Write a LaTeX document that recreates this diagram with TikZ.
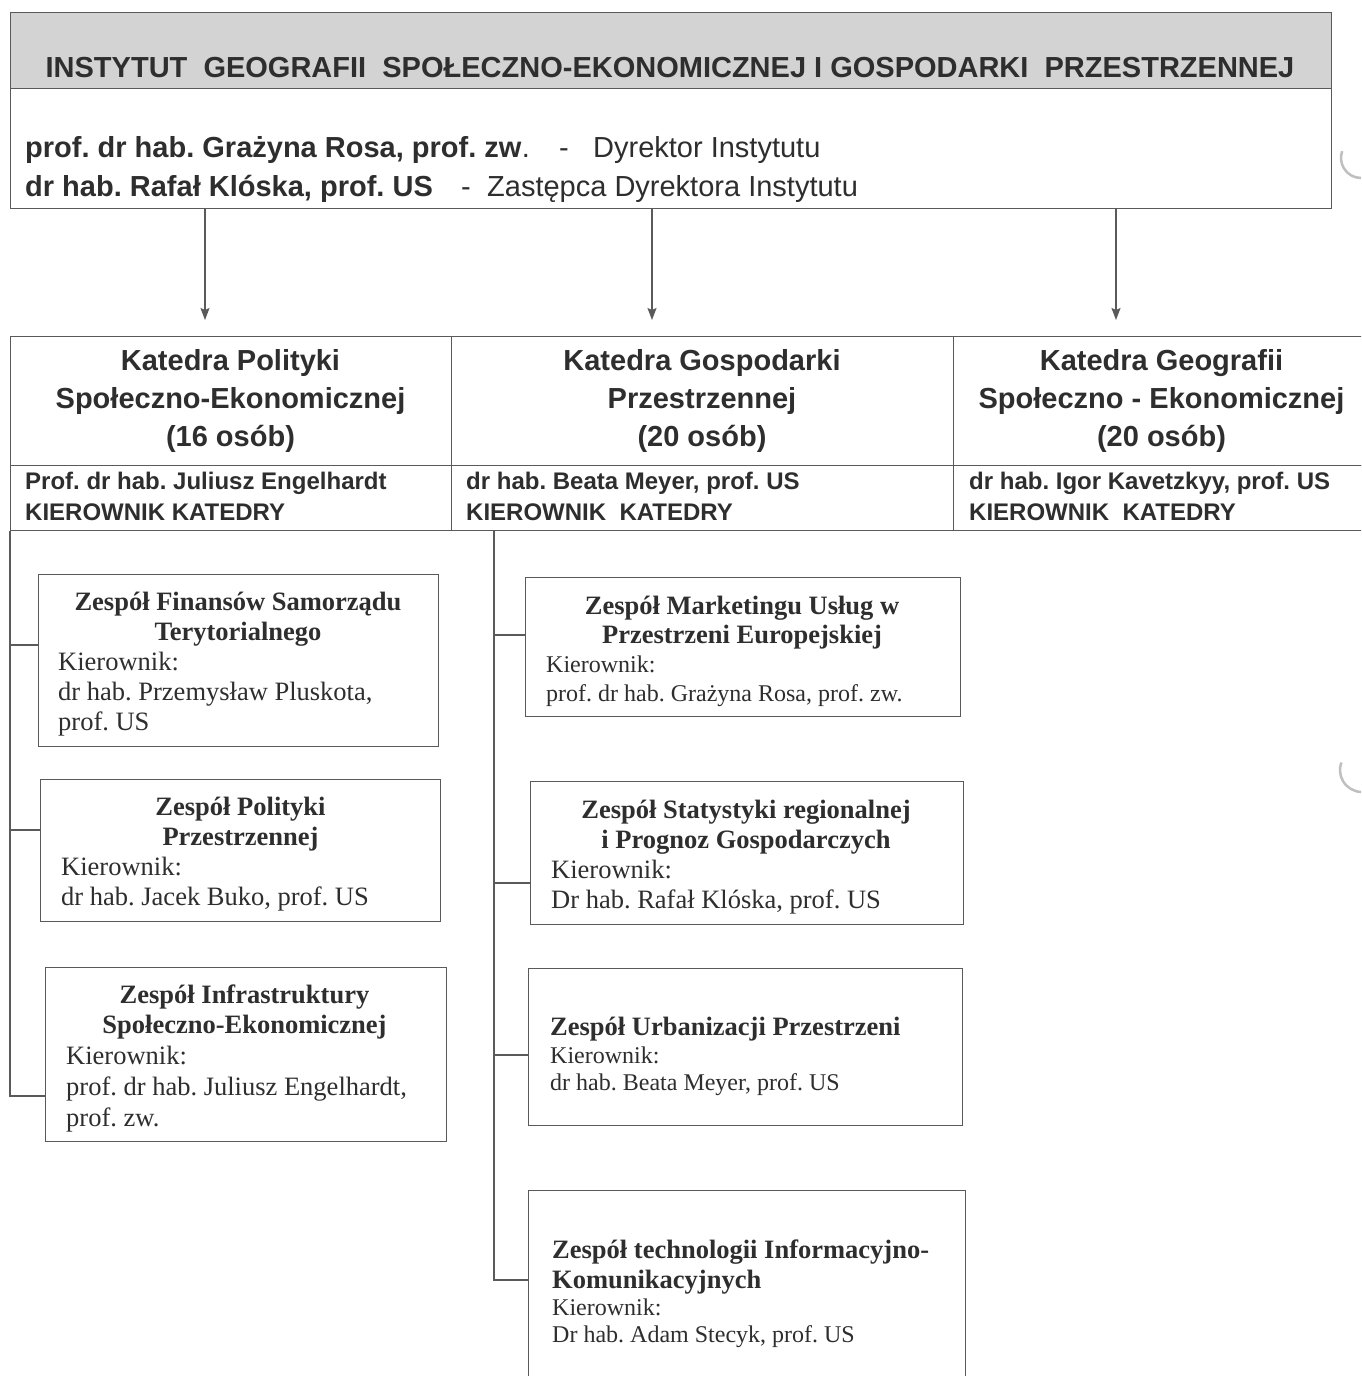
\documentclass[tikz,border=0pt]{standalone}
\usepackage{fontspec}
\setmainfont{Liberation Serif}
\setsansfont{Liberation Sans}
\usetikzlibrary{arrows.meta}
\definecolor{ink}{HTML}{2E2E2E}
\definecolor{rulec}{HTML}{5A5A5A}
\definecolor{bandc}{HTML}{D3D3D3}
\frenchspacing
\begin{document}
\frenchspacing
\begin{tikzpicture}[x=1pt,y=-1pt,
  box/.style={draw=rulec, line width=1.3pt, anchor=north west, inner sep=0pt},
  conn/.style={draw=rulec, line width=1.3pt},
  arr/.style={draw=rulec, line width=1.3pt, -{Stealth[length=12pt,width=9pt,inset=2pt]}},
  txt/.style={inner sep=0pt, text=ink},
  hdr/.style={txt, anchor=base, font=\sffamily\bfseries\fontsize{29}{34}\selectfont},
  nm/.style={txt, anchor=base west, font=\sffamily\bfseries\fontsize{29}{34}\selectfont},
  rl/.style={txt, anchor=base west, font=\sffamily\fontsize{29}{34}\selectfont},
  kat/.style={txt, anchor=base, font=\sffamily\bfseries\fontsize{29}{34}\selectfont},
  kier/.style={txt, anchor=base west, font=\sffamily\bfseries\fontsize{24}{28}\selectfont},
  zt/.style={txt, anchor=base, font=\bfseries\fontsize{26.5}{30}\selectfont},
  ztl/.style={txt, anchor=base west, font=\bfseries\fontsize{26.5}{30}\selectfont},
  zb/.style={txt, anchor=base west, font=\fontsize{26.5}{30}\selectfont},
  zs/.style={txt, anchor=base west, font=\fontsize{24}{28}\selectfont},
  hole/.style={draw=black!25, line width=2.5pt}
]
\useasboundingbox (0,0) rectangle (1361,1376);
\clip (0,0) rectangle (1361,1376);
\fill[white] (0,0) rectangle (1361,1376);

% ---------- institute box ----------
\node[box, fill=bandc, minimum width=1321pt, minimum height=76pt] (band) at (10,12) {};
\node[box, minimum width=1321pt, minimum height=196pt] (inst) at (10,12) {};
\node[hdr] (title) at (670,77) {INSTYTUT\ \ GEOGRAFII\ \ SPOŁECZNO-EKONOMICZNEJ I GOSPODARKI\ \ PRZESTRZENNEJ};

\node[nm] (d1n) at (25,157) {prof. dr hab. Grażyna Rosa, prof. zw};
\node[rl] (d1p) at (d1n.base east) {.};
\node[rl] (d1d) at (559,157) {-};
\node[rl] (d1r) at (593,157) {Dyrektor Instytutu};
\node[nm] (d2n) at (25,196) {dr hab. Rafał Klóska, prof. US};
\node[rl] (d2d) at (461,196) {-};
\node[rl] (d2r) at (487,196) {Zastępca Dyrektora Instytutu};

% ---------- departments ----------
\node[box, minimum width=441pt, minimum height=129pt] (k1) at (10,336) {};
\node[box, minimum width=441pt, minimum height=65pt] (k1h) at (10,465) {};
\node[box, minimum width=502pt, minimum height=129pt] (k2) at (451,336) {};
\node[box, minimum width=502pt, minimum height=65pt] (k2h) at (451,465) {};
\node[box, minimum width=412pt, minimum height=129pt] (k3) at (953,336) {};
\node[box, minimum width=412pt, minimum height=65pt] (k3h) at (953,465) {};

\node[kat] (k1a) at (230.5,370) {Katedra Polityki};
\node[kat] (k1b) at (230.5,408) {Społeczno-Ekonomicznej};
\node[kat] (k1c) at (230.5,446) {(16 osób)};
\node[kat] (k2a) at (702,370) {Katedra Gospodarki};
\node[kat] (k2b) at (702,408) {Przestrzennej};
\node[kat] (k2c) at (702,446) {(20 osób)};
\node[kat] (k3a) at (1161.5,370) {Katedra Geografii};
\node[kat] (k3b) at (1161.5,408) {Społeczno - Ekonomicznej};
\node[kat] (k3c) at (1161.5,446) {(20 osób)};

\node[kier] (k1ha) at (25,489) {Prof. dr hab. Juliusz Engelhardt};
\node[kier] (k1hb) at (25,520) {KIEROWNIK KATEDRY};
\node[kier] (k2ha) at (466,489) {dr hab. Beata Meyer, prof. US};
\node[kier] (k2hb) at (466,520) {KIEROWNIK\ \ KATEDRY};
\node[kier] (k3ha) at (969,489) {dr hab. Igor Kavetzkyy, prof. US};
\node[kier] (k3hb) at (969,520) {KIEROWNIK\ \ KATEDRY};

% ---------- arrows ----------
\coordinate (a1) at (205,320);
\coordinate (a2) at (652,320);
\coordinate (a3) at (1116,320);
\draw[arr] (inst.south -| a1) -- (a1);
\draw[arr] (inst.south -| a2) -- (a2);
\draw[arr] (inst.south -| a3) -- (a3);

% ---------- left teams ----------
\node[box, minimum width=400pt, minimum height=172pt] (lb1) at (38,574) {};
\node[zt] (lb1a) at (238,610) {Zespół Finansów Samorządu};
\node[zt] (lb1b) at (238,640) {Terytorialnego};
\node[zb] (lb1c) at (58,670) {Kierownik:};
\node[zb] (lb1d) at (58,700) {dr hab. Przemysław Pluskota,};
\node[zb] (lb1e) at (58,730) {prof. US};

\node[box, minimum width=400pt, minimum height=142pt] (lb2) at (40,779) {};
\node[zt] (lb2a) at (240.5,815) {Zespół Polityki};
\node[zt] (lb2b) at (240.5,845) {Przestrzennej};
\node[zb] (lb2c) at (61,875) {Kierownik:};
\node[zb] (lb2d) at (61,905) {dr hab. Jacek Buko, prof. US};

\node[box, minimum width=401pt, minimum height=174pt] (lb3) at (45,967) {};
\node[zt] (lb3a) at (244.5,1003) {Zespół Infrastruktury};
\node[zt] (lb3b) at (244.5,1033) {Społeczno-Ekonomicznej};
\node[zb] (lb3c) at (66,1064) {Kierownik:};
\node[zb] (lb3d) at (66,1095) {prof. dr hab. Juliusz Engelhardt,};
\node[zb] (lb3e) at (66,1126) {prof. zw.};

\coordinate (lt1) at (38,645);
\coordinate (lt2) at (40,830);
\coordinate (lt3) at (45,1096);
\draw[conn] (k1h.south west) |- (lt3);
\draw[conn] (lt1 -| k1h.south west) -- (lt1);
\draw[conn] (lt2 -| k1h.south west) -- (lt2);

% ---------- middle teams ----------
\node[box, minimum width=435pt, minimum height=139pt] (mb1) at (525,577) {};
\node[zt] (mb1a) at (742,614) {Zespół Marketingu Usług w};
\node[zt] (mb1b) at (742,643) {Przestrzeni Europejskiej};
\node[zs] (mb1c) at (546,672) {Kierownik:};
\node[zs] (mb1d) at (546,701) {prof. dr hab. Grażyna Rosa, prof. zw.};

\node[box, minimum width=433pt, minimum height=143pt] (mb2) at (530,781) {};
\node[zt] (mb2a) at (746,818) {Zespół Statystyki regionalnej};
\node[zt] (mb2b) at (746,848) {i Prognoz Gospodarczych};
\node[zb] (mb2c) at (551,878) {Kierownik:};
\node[zb] (mb2d) at (551,908) {Dr hab. Rafał Klóska, prof. US};

\node[box, minimum width=434pt, minimum height=157pt] (mb3) at (528,968) {};
\node[ztl] (mb3a) at (550,1035) {Zespół Urbanizacji Przestrzeni};
\node[zs] (mb3c) at (550,1063) {Kierownik:};
\node[zs] (mb3d) at (550,1090) {dr hab. Beata Meyer, prof. US};

\node[box, minimum width=437pt, minimum height=205pt] (mb4) at (528,1190) {};
\node[ztl] (mb4a) at (552,1258) {Zespół technologii Informacyjno-};
\node[ztl] (mb4b) at (552,1288) {Komunikacyjnych};
\node[zs] (mb4c) at (552,1315) {Kierownik:};
\node[zs] (mb4d) at (552,1342) {Dr hab. Adam Stecyk, prof. US};

\coordinate (mtop) at (494,530);
\coordinate (mt1) at (525,635);
\coordinate (mt2) at (530,883);
\coordinate (mt3) at (528,1055);
\coordinate (mt4) at (528,1280);
\draw[conn] (mtop) |- (mt4);
\draw[conn] (mt1 -| mtop) -- (mt1);
\draw[conn] (mt2 -| mtop) -- (mt2);
\draw[conn] (mt3 -| mtop) -- (mt3);

% ---------- binder holes (scan) ----------
\draw[hole] (1361,178) arc[start angle=90, end angle=200, radius=20];
\draw[hole] (1362,792) arc[start angle=90, end angle=200, radius=22];
\end{tikzpicture}
\end{document}
